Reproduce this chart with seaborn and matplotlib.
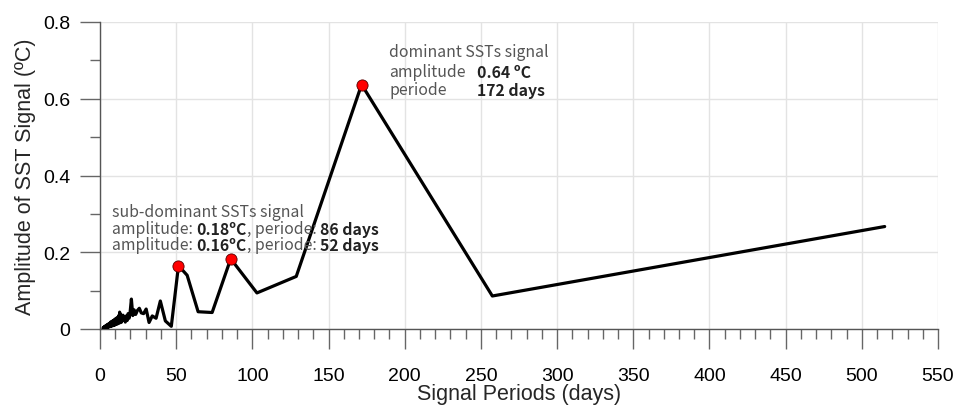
import matplotlib
matplotlib.use("Agg")
import matplotlib.pyplot as plt
from matplotlib.ticker import MultipleLocator
import seaborn as sns
import pandas as pd

# ---- data ----
periods = [2.0, 2.2, 2.4, 2.6, 2.8, 3.0, 3.2, 3.4, 3.6, 3.8, 4.0, 4.2, 4.4, 4.6, 4.8,
           5.0, 5.2, 5.4, 5.6, 5.8, 6.0, 6.2, 6.4, 6.6, 6.8, 7.0, 7.2, 7.4, 7.6, 7.8,
           8.0, 8.2, 8.4, 8.6, 8.8, 9.0, 9.2, 9.5, 9.7, 9.9, 10.1, 10.3, 10.5, 10.7,
           11.0, 11.2, 11.4, 11.7, 12.0, 12.3, 12.6, 12.9, 13.2, 13.6, 13.9, 14.3,
           14.7, 15.1, 15.6, 16.1, 16.6, 17.2, 17.8, 18.4, 19.1, 19.8, 20.6, 21.5,
           22.4, 23.4, 24.5, 25.8, 27.1, 28.6, 30.3, 32.2, 34.3, 36.8, 39.6, 42.9,
           46.8, 51.5, 57.2, 64.4, 73.6, 85.8, 103.0, 128.8, 171.7, 257.5, 515.0]
amplitudes = [0.002, 0.004, 0.001, 0.005, 0.003, 0.006, 0.002, 0.007, 0.004, 0.009,
              0.003, 0.008, 0.005, 0.011, 0.004, 0.010, 0.006, 0.013, 0.005, 0.012,
              0.007, 0.015, 0.006, 0.014, 0.009, 0.018, 0.007, 0.016, 0.010, 0.020,
              0.008, 0.019, 0.011, 0.022, 0.009, 0.021, 0.012, 0.025, 0.010, 0.023,
              0.014, 0.027, 0.012, 0.026, 0.016, 0.030, 0.013, 0.028, 0.018, 0.035,
              0.015, 0.044, 0.020, 0.038, 0.017, 0.033, 0.022, 0.036, 0.024, 0.030,
              0.018, 0.034, 0.022, 0.040, 0.028, 0.045, 0.078, 0.035, 0.050, 0.038,
              0.048, 0.054, 0.042, 0.040, 0.052, 0.017, 0.034, 0.028, 0.073, 0.021,
              0.007, 0.165, 0.140, 0.045, 0.043, 0.183, 0.094, 0.137, 0.637, 0.086,
              0.267]

peak_periods = [51.5, 85.8, 171.7]
peak_amplitudes = [0.165, 0.183, 0.637]

x_ticks = [0, 50, 100, 150, 200, 250, 300, 350, 400, 450, 500, 550]
y_ticks = [0, 0.2, 0.4, 0.6, 0.8]
y_tick_labels = ["0", "0.2", "0.4", "0.6", "0.8"]

df = pd.DataFrame({"period": periods, "amplitude": amplitudes})
peaks = pd.DataFrame({"period": peak_periods, "amplitude": peak_amplitudes})

# ---- style ----
sns.set_theme(style="white")
plt.rcParams["font.family"] = ["Liberation Sans", "DejaVu Sans"]

fig = plt.figure(figsize=(9.6, 4.1), dpi=100)
ax = fig.add_axes([100 / 960, 1 - 330 / 410, 838 / 960, 307 / 410])

sns.lineplot(data=df, x="period", y="amplitude", ax=ax, color="black",
             linewidth=2.3, estimator=None, sort=True, zorder=3)
sns.scatterplot(data=peaks, x="period", y="amplitude", ax=ax, color="#ff0000",
                s=65, edgecolor="#550000", linewidth=0.6, zorder=4)

ax.set_xlim(0, 550)
ax.set_ylim(0, 0.8)
ax.set_xticks(x_ticks)
ax.set_xticklabels([str(t) for t in x_ticks])
ax.set_yticks(y_ticks)
ax.set_yticklabels(y_tick_labels)
ax.xaxis.set_minor_locator(MultipleLocator(10))
ax.yaxis.set_minor_locator(MultipleLocator(0.1))

ax.grid(True, which="major", color="#e3e3e3", linewidth=1.0, zorder=0)
ax.set_axisbelow(True)

for s in ["top", "right"]:
    ax.spines[s].set_visible(False)
for s in ["left", "bottom"]:
    ax.spines[s].set_color("#555555")
    ax.spines[s].set_linewidth(1.0)

ax.tick_params(axis="both", which="both", bottom=True, left=True,
               top=False, right=False)
ax.tick_params(axis="both", which="major", direction="out", length=14.5,
               width=1.0, color="#666666", labelsize=14, labelcolor="black")
ax.tick_params(axis="both", which="minor", direction="out", length=7.2,
               width=1.0, color="#666666")
ax.tick_params(axis="x", which="major", pad=13)
ax.tick_params(axis="y", which="major", pad=7)

ax.set_xlabel("Signal Periods (days)", fontsize=15.5, labelpad=-1)
ax.set_ylabel("Amplitude of SST Signal (ºC)", fontsize=15.5, labelpad=5)

# ---- annotations ----
ann_font = ["Noto Sans CJK SC", "DejaVu Sans"]
gray = "#555555"
dark = "#222222"
fs = 11.4

# dominant signal block
ax.text(189.7, 0.722, "dominant SSTs signal", fontsize=fs, color=gray,
        family=ann_font, va="center", ha="left")
ax.text(189.7, 0.670, "amplitude", fontsize=fs, color=gray,
        family=ann_font, va="center", ha="left")
ax.text(247.4, 0.670, "0.64 ºC", fontsize=fs, color=dark, fontweight="bold",
        family=ann_font, va="center", ha="left")
ax.text(189.7, 0.623, "periode", fontsize=fs, color=gray,
        family=ann_font, va="center", ha="left")
ax.text(247.4, 0.623, "172 days", fontsize=fs, color=dark, fontweight="bold",
        family=ann_font, va="center", ha="left")

# sub-dominant block
ax.text(7.9, 0.307, "sub-dominant SSTs signal", fontsize=fs, color=gray,
        family=ann_font, va="center", ha="left")


def chain_line(x, y, parts):
    prev = None
    for txt, bold in parts:
        kw = dict(fontsize=fs, family=ann_font,
                  color=dark if bold else gray,
                  fontweight="bold" if bold else "normal")
        if prev is None:
            prev = ax.text(x, y, txt, va="center", ha="left", **kw)
        else:
            prev = ax.annotate(txt, xy=(1, 0), xycoords=prev,
                               va="bottom", ha="left", **kw)
    return prev


chain_line(7.9, 0.263, [("amplitude: ", False), ("0.18ºC", True),
                         (", periode: ", False), ("86 days", True)])
chain_line(7.9, 0.219, [("amplitude: ", False), ("0.16ºC", True),
                         (", periode: ", False), ("52 days", True)])

fig.savefig("out.png", dpi=100)
